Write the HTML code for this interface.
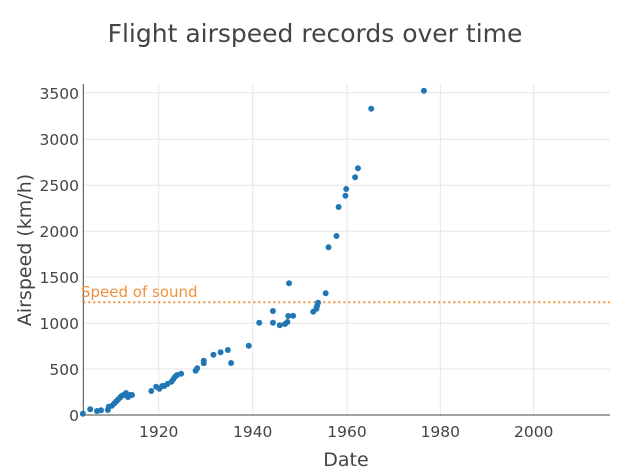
<!DOCTYPE html>
<html><head><style>body{margin:0;background:#fff}svg{display:block;font-family:"DejaVu Sans","Liberation Sans",sans-serif}</style></head><body>
<svg width="630" height="473" viewBox="0 0 630 473">
<text x="315" y="42" text-anchor="middle" font-size="25" fill="#444">Flight airspeed records over time</text>
<g stroke="#e5e5e5" stroke-width="1">
<line x1="158.7" y1="84" x2="158.7" y2="415"/><line x1="252.7" y1="84" x2="252.7" y2="415"/><line x1="347" y1="84" x2="347" y2="415"/><line x1="440.3" y1="84" x2="440.3" y2="415"/><line x1="533.7" y1="84" x2="533.7" y2="415"/>
<line x1="83" y1="369" x2="610" y2="369"/><line x1="83" y1="323.3" x2="610" y2="323.3"/><line x1="83" y1="277" x2="610" y2="277"/><line x1="83" y1="231.3" x2="610" y2="231.3"/><line x1="83" y1="185.3" x2="610" y2="185.3"/><line x1="83" y1="139.3" x2="610" y2="139.3"/><line x1="83" y1="92.7" x2="610" y2="92.7"/>
</g>
<line x1="83.3" y1="84" x2="83.3" y2="415.3" stroke="#444"/>
<line x1="83.3" y1="415" x2="610" y2="415" stroke="#444"/>
<line x1="83.3" y1="302.3" x2="610" y2="302.3" stroke="#f0903a" stroke-width="2" stroke-dasharray="2,3"/>
<text x="81" y="297" font-size="15" fill="#f0903a">Speed of sound</text>
<g font-size="15.5" fill="#444" text-anchor="end">
<text x="79" y="421">0</text><text x="79" y="375">500</text><text x="79" y="329">1000</text><text x="79" y="283">1500</text><text x="79" y="237">2000</text><text x="79" y="191">2500</text><text x="79" y="145">3000</text><text x="79" y="99">3500</text>
</g>
<g font-size="15.5" fill="#444" text-anchor="middle">
<text x="158.7" y="437">1920</text><text x="252.7" y="437">1940</text><text x="347" y="437">1960</text><text x="440.3" y="437">1980</text><text x="533.7" y="437">2000</text>
</g>
<text x="346" y="466" text-anchor="middle" font-size="19" fill="#444">Date</text>
<text transform="translate(31,250) rotate(-90)" text-anchor="middle" font-size="19" fill="#444">Airspeed (km/h)</text>
<g fill="#1f77b4" transform="matrix(0.9874 0 0 1 -0.86 0)">
<circle cx="84.8" cy="413.7" r="3"/><circle cx="92.2" cy="409.3" r="3"/><circle cx="99.1" cy="411" r="3"/><circle cx="103.2" cy="410.3" r="3"/>
<circle cx="110.1" cy="410" r="3"/><circle cx="111" cy="406.7" r="3"/><circle cx="114.2" cy="405.7" r="3"/><circle cx="116.5" cy="403.5" r="3"/><circle cx="118.5" cy="401.5" r="3"/><circle cx="120.5" cy="399.5" r="3"/><circle cx="122.5" cy="397.5" r="3"/><circle cx="124" cy="396" r="3"/><circle cx="126" cy="395" r="3"/><circle cx="128.5" cy="393" r="3"/><circle cx="130.5" cy="397" r="3"/><circle cx="132.5" cy="395" r="3"/><circle cx="134.6" cy="395" r="3"/>
<circle cx="154.1" cy="391" r="3"/><circle cx="159" cy="386.7" r="3"/><circle cx="162.3" cy="388.7" r="3"/><circle cx="165.2" cy="386" r="3"/><circle cx="167.2" cy="386" r="3"/><circle cx="170.5" cy="384" r="3"/><circle cx="174.5" cy="381.7" r="3"/><circle cx="176.5" cy="379" r="3"/><circle cx="178.2" cy="376.7" r="3"/><circle cx="180.2" cy="375" r="3"/><circle cx="184.3" cy="373.7" r="3"/>
<circle cx="199" cy="370.7" r="3"/><circle cx="200.6" cy="368.3" r="3"/><circle cx="207.2" cy="363.3" r="3"/><circle cx="207.2" cy="360.7" r="3"/><circle cx="217" cy="354.7" r="3"/><circle cx="224.3" cy="352.3" r="3"/><circle cx="231.6" cy="350" r="3"/><circle cx="234.9" cy="363" r="3"/>
<circle cx="252.8" cy="345.7" r="3"/><circle cx="263.4" cy="322.7" r="3"/><circle cx="277.3" cy="311" r="3"/><circle cx="277.3" cy="322.7" r="3"/><circle cx="284.2" cy="325.3" r="3"/><circle cx="289.5" cy="324" r="3"/><circle cx="292" cy="322" r="3"/><circle cx="292.8" cy="316" r="3"/><circle cx="293.6" cy="283.3" r="3"/><circle cx="297.7" cy="315.7" r="3"/>
<circle cx="318.1" cy="311.7" r="3"/><circle cx="321.3" cy="308.7" r="3"/><circle cx="323" cy="302.7" r="3"/><circle cx="322" cy="306" r="3"/><circle cx="330.7" cy="293.3" r="3"/>
<circle cx="333.6" cy="247.3" r="3"/><circle cx="341.7" cy="236" r="3"/><circle cx="343.8" cy="207" r="3"/><circle cx="350.7" cy="195.7" r="3"/><circle cx="351.5" cy="189" r="3"/><circle cx="360.5" cy="177.3" r="3"/><circle cx="363.4" cy="168.3" r="3"/><circle cx="376.8" cy="108.7" r="3"/><circle cx="430.2" cy="90.7" r="3"/>
</g>
</svg>
</body></html>
